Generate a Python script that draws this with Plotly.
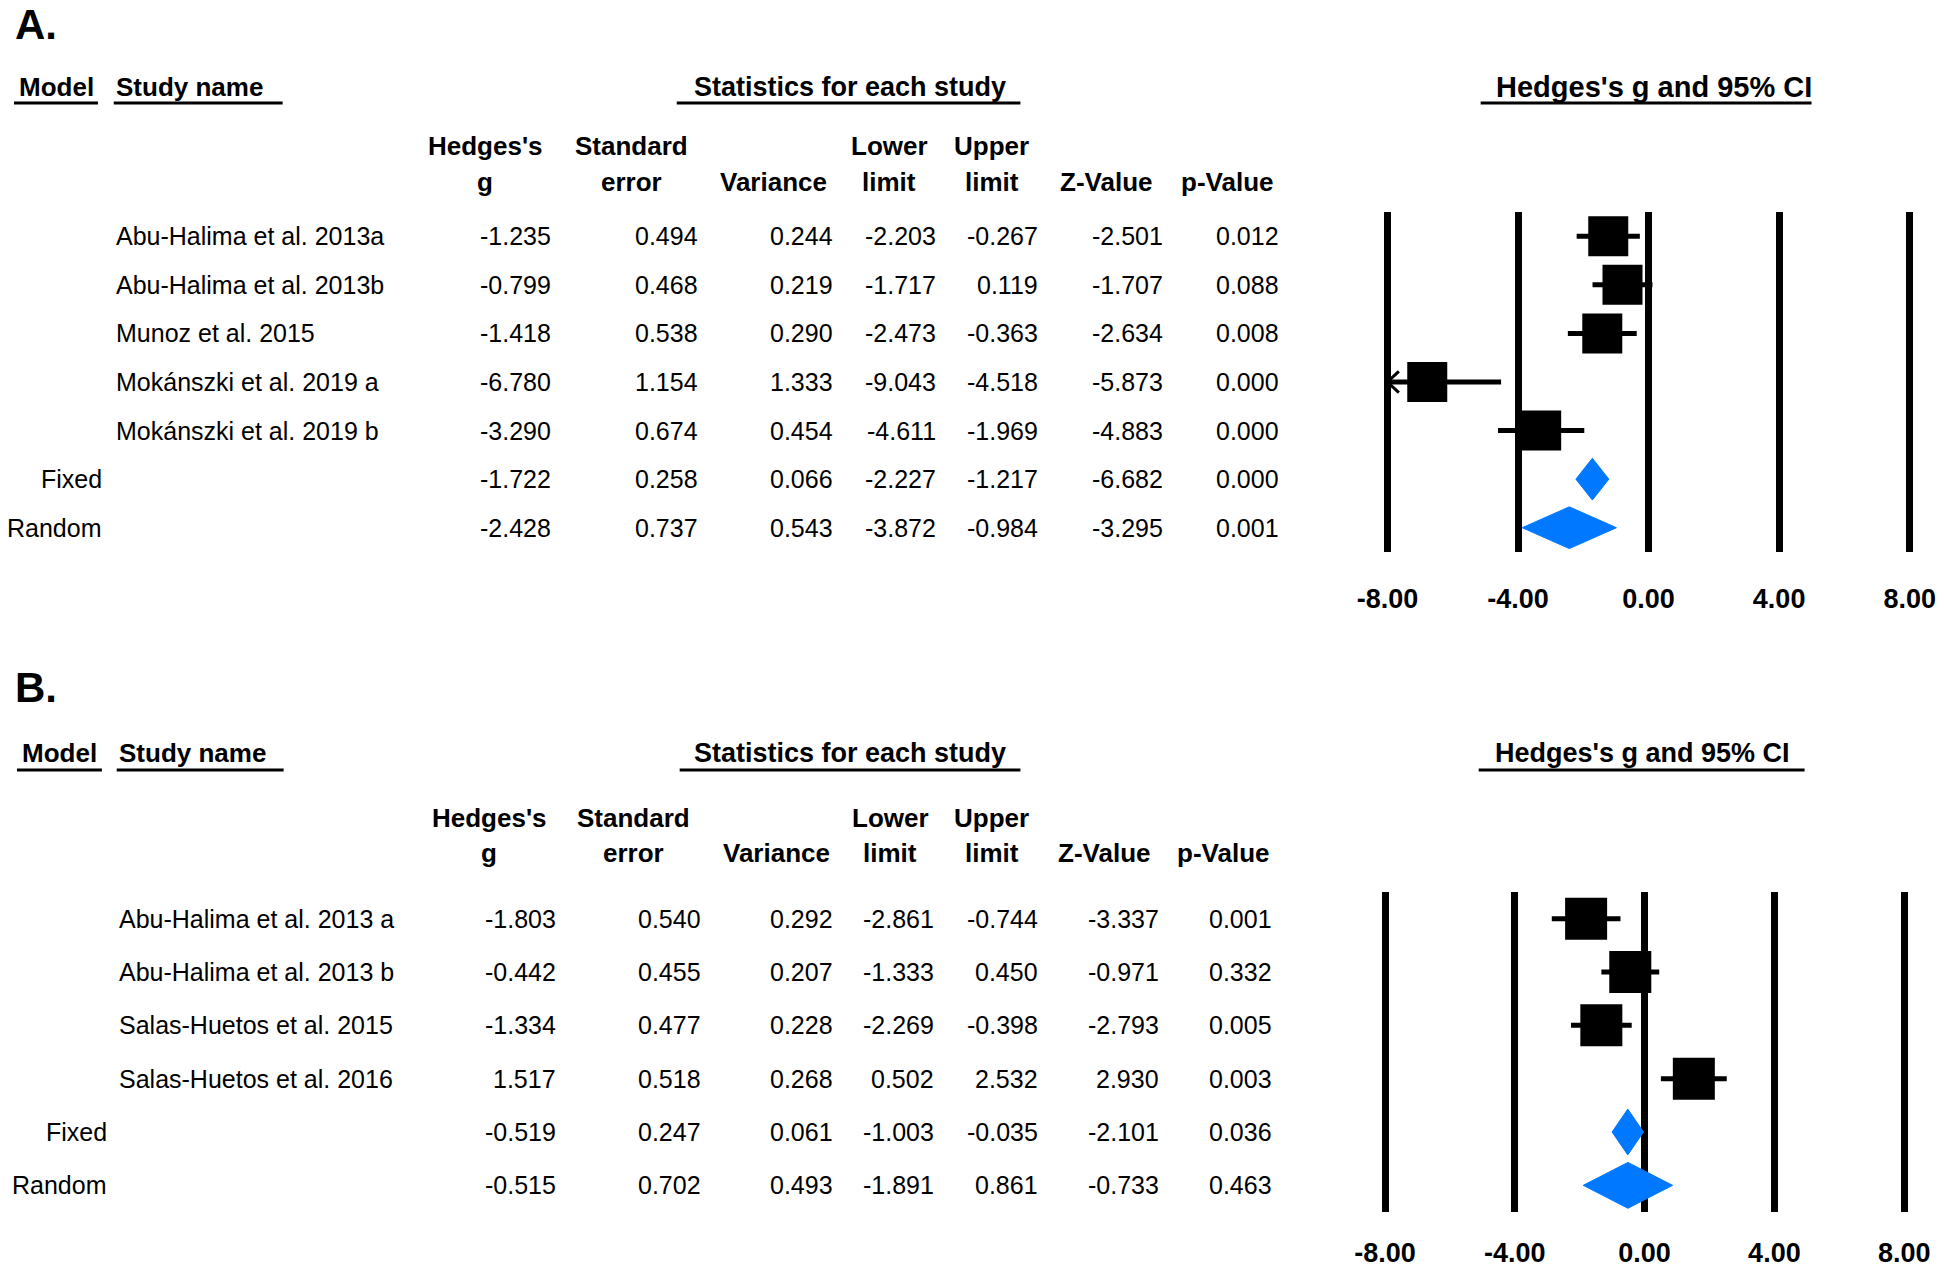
import plotly.graph_objects as go

W, H = 1944, 1274
FONT = "Liberation Sans, Arial, sans-serif"
BLUE = "#0078FF"

# ---------------- data: panel A ----------------
a_models = ["", "", "", "", "", "Fixed", "Random"]
a_studies = ["Abu-Halima et al. 2013a", "Abu-Halima et al. 2013b", "Munoz et al. 2015",
             "Mokánszki et al. 2019 a", "Mokánszki et al. 2019 b", "", ""]
a_g = [-1.235, -0.799, -1.418, -6.780, -3.290, -1.722, -2.428]
a_se = [0.494, 0.468, 0.538, 1.154, 0.674, 0.258, 0.737]
a_var = [0.244, 0.219, 0.290, 1.333, 0.454, 0.066, 0.543]
a_lo = [-2.203, -1.717, -2.473, -9.043, -4.611, -2.227, -3.872]
a_hi = [-0.267, 0.119, -0.363, -4.518, -1.969, -1.217, -0.984]
a_z = [-2.501, -1.707, -2.634, -5.873, -4.883, -6.682, -3.295]
a_p = [0.012, 0.088, 0.008, 0.000, 0.000, 0.000, 0.001]

# ---------------- data: panel B ----------------
b_models = ["", "", "", "", "Fixed", "Random"]
b_studies = ["Abu-Halima et al. 2013 a", "Abu-Halima et al. 2013 b",
             "Salas-Huetos et al. 2015", "Salas-Huetos et al. 2016", "", ""]
b_g = [-1.803, -0.442, -1.334, 1.517, -0.519, -0.515]
b_se = [0.540, 0.455, 0.477, 0.518, 0.247, 0.702]
b_var = [0.292, 0.207, 0.228, 0.268, 0.061, 0.493]
b_lo = [-2.861, -1.333, -2.269, 0.502, -1.003, -1.891]
b_hi = [-0.744, 0.450, -0.398, 2.532, -0.035, 0.861]
b_z = [-3.337, -0.971, -2.793, 2.930, -2.101, -0.733]
b_p = [0.001, 0.332, 0.005, 0.003, 0.036, 0.463]

tick_vals = [-8, -4, 0, 4, 8]
tick_labels = ["-8.00", "-4.00", "0.00", "4.00", "8.00"]
head_top = ["Hedges's", "Standard", "", "Lower", "Upper", "", ""]
head_bot = ["g", "error", "Variance", "limit", "limit", "Z-Value", "p-Value"]
X_MIN, X_MAX = -8, 8

panels = [
    dict(label="A.", models=a_models, studies=a_studies,
         cols=[a_g, a_se, a_var, a_lo, a_hi, a_z, a_p],
         g=a_g, lo=a_lo, hi=a_hi, xa="x", ya="y",
         ytop=212, ybot=552, x0=1655, ppu=33.05,
         label_y=0, label_anchor="top", title_y=87, ul_y=103, h1_y=146, h2_y=182, standoff=28,
         model_r=91, name_l=101,
         col_r=[546, 695, 831, 936, 1039, 1165, 1283],
         head_c=[477, 625, 769, 886, 990, 1106, 1228],
         ul_model=(0, 85), ul_study=(101, 272), ul_stats=(671, 1019), ul_forest=(1485, 1820),
         model_l=3, stats_c=846, forest_c=1660, forest_fs=29, fsize=25),
    dict(label="B.", models=b_models, studies=b_studies,
         cols=[b_g, b_se, b_var, b_lo, b_hi, b_z, b_p],
         g=b_g, lo=b_lo, hi=b_hi, xa="x2", ya="y2",
         ytop=892, ybot=1212, x0=1651, ppu=32.85,
         label_y=687, label_anchor="middle", title_y=753, ul_y=770, h1_y=818, h2_y=853, standoff=22,
         model_r=96, name_l=104,
         col_r=[551, 698, 831, 934, 1039, 1161, 1276],
         head_c=[481, 627, 772, 887, 990, 1104, 1224],
         ul_model=(3, 89), ul_study=(104, 273), ul_stats=(674, 1019), ul_forest=(1483, 1813),
         model_l=6, stats_c=846, forest_c=1649, forest_fs=27, fsize=25),
]


def px(x):
    return x / W


def py(y):
    return 1 - y / H


fig = go.Figure()
annotations = []
shapes = []

for i, P in enumerate(panels):
    n = len(P["g"])
    rows = list(range(n))
    xa, ya = P["xa"], P["ya"]
    is_sum = [m != "" for m in P["models"]]

    # study squares with CI whiskers (clipped at axis limit)
    st = [r for r in rows if not is_sum[r]]
    sx = [P["g"][r] for r in st]
    plus = [min(P["hi"][r], X_MAX) - P["g"][r] for r in st]
    minus = [P["g"][r] - max(P["lo"][r], X_MIN) for r in st]
    fig.add_trace(go.Scatter(
        x=sx, y=st, mode="markers", xaxis=xa, yaxis=ya,
        marker=dict(symbol="square", size=40 if i == 0 else 42, color="black",
                    line=dict(width=0)),
        error_x=dict(type="data", symmetric=False, array=plus, arrayminus=minus,
                     color="black", thickness=5, width=0),
        showlegend=False, hoverinfo="skip"))

    # arrow heads where CI exceeds axis limit
    for r in st:
        if P["lo"][r] < X_MIN:
            fig.add_trace(go.Scatter(
                x=[X_MIN + 0.35, X_MIN, X_MIN + 0.35], y=[r - 0.22, r, r + 0.22],
                mode="lines", xaxis=xa, yaxis=ya,
                line=dict(color="black", width=3), showlegend=False, hoverinfo="skip"))

    # summary diamonds
    for r in rows:
        if is_sum[r]:
            g, lo, hi = P["g"][r], P["lo"][r], P["hi"][r]
            fig.add_trace(go.Scatter(
                x=[lo, g, hi, g, lo], y=[r, r - 0.43, r, r + 0.43, r],
                mode="lines", fill="toself", fillcolor=BLUE, xaxis=xa, yaxis=ya,
                line=dict(color=BLUE, width=1), showlegend=False, hoverinfo="skip"))

    # table text
    fs = P["fsize"]
    for r in rows:
        if P["models"][r]:
            annotations.append(dict(x=px(P["model_r"]), y=r, xref="paper", yref=ya,
                                    text=P["models"][r], xanchor="right", yanchor="middle",
                                    showarrow=False, font=dict(size=fs, family=FONT, color="black")))
        if P["studies"][r]:
            annotations.append(dict(x=px(P["name_l"]), y=r, xref="paper", yref=ya,
                                    text=P["studies"][r], xanchor="left", yanchor="middle",
                                    showarrow=False, font=dict(size=fs, family=FONT, color="black")))
        for c, col in enumerate(P["cols"]):
            annotations.append(dict(x=px(P["col_r"][c]), y=r, xref="paper", yref=ya,
                                    text=f"{col[r]:.3f}", xanchor="right", yanchor="middle",
                                    showarrow=False, font=dict(size=fs, family=FONT, color="black")))

    # column headers
    for c in range(len(head_bot)):
        if head_top[c]:
            annotations.append(dict(x=px(P["head_c"][c]), y=py(P["h1_y"]), xref="paper", yref="paper",
                                    text=f"<b>{head_top[c]}</b>", xanchor="center", yanchor="middle",
                                    showarrow=False, font=dict(size=26, family=FONT, color="black")))
        annotations.append(dict(x=px(P["head_c"][c]), y=py(P["h2_y"]), xref="paper", yref="paper",
                                text=f"<b>{head_bot[c]}</b>", xanchor="center", yanchor="middle",
                                showarrow=False, font=dict(size=26, family=FONT, color="black")))

    # group titles
    annotations.append(dict(x=px(P["model_l"]), y=py(P["title_y"]), xref="paper", yref="paper",
                            text="<b>Model</b>", xanchor="left", yanchor="middle", showarrow=False,
                            font=dict(size=26, family=FONT, color="black")))
    annotations.append(dict(x=px(P["name_l"]), y=py(P["title_y"]), xref="paper", yref="paper",
                            text="<b>Study name</b>", xanchor="left", yanchor="middle", showarrow=False,
                            font=dict(size=26, family=FONT, color="black")))
    annotations.append(dict(x=px(P["stats_c"]), y=py(P["title_y"]), xref="paper", yref="paper",
                            text="<b>Statistics for each study</b>", xanchor="center", yanchor="middle",
                            showarrow=False, font=dict(size=27, family=FONT, color="black")))
    annotations.append(dict(x=px(P["forest_c"]), y=py(P["title_y"]), xref="paper", yref="paper",
                            text="<b>Hedges's g and 95% CI</b>", xanchor="center", yanchor="middle",
                            showarrow=False, font=dict(size=P["forest_fs"], family=FONT, color="black")))
    annotations.append(dict(x=0, y=py(P["label_y"]), xref="paper", yref="paper",
                            text=f"<b>{P['label']}</b>", xanchor="left", yanchor=P["label_anchor"],
                            borderpad=0, showarrow=False,
                            font=dict(size=42, family=FONT, color="black")))

    for (a, b) in [P["ul_model"], P["ul_study"], P["ul_stats"], P["ul_forest"]]:
        shapes.append(dict(type="line", xref="paper", yref="paper",
                           x0=px(a), x1=px(b), y0=py(P["ul_y"]), y1=py(P["ul_y"]),
                           line=dict(color="black", width=3)))

    # axes
    half = 8.5
    xl = P["x0"] - half * P["ppu"]
    xr = P["x0"] + half * P["ppu"]
    xkey = "xaxis" if xa == "x" else "xaxis2"
    ykey = "yaxis" if ya == "y" else "yaxis2"
    fig.update_layout(**{
        xkey: dict(domain=[px(xl), min(1.0, px(xr))], range=[-half, half], anchor=ya,
                   tickvals=tick_vals, ticktext=[f"<b>{t}</b>" for t in tick_labels],
                   tickfont=dict(size=27, family=FONT, color="black"),
                   showgrid=True, gridcolor="black", gridwidth=7, zeroline=False,
                   showline=False, ticks="", ticklabelstandoff=P["standoff"], fixedrange=True),
        ykey: dict(domain=[py(P["ybot"]), py(P["ytop"])], range=[n - 0.5, -0.5],
                   anchor=xa, visible=False, showgrid=False, zeroline=False, fixedrange=True),
    })

fig.update_layout(width=W, height=H, margin=dict(l=0, r=0, t=0, b=0),
                  paper_bgcolor="white", plot_bgcolor="white",
                  annotations=annotations, shapes=shapes, showlegend=False)

fig.write_html("out.html", config={"displayModeBar": False},
               post_script="document.body.style.margin='0';document.body.style.overflow='hidden';")
